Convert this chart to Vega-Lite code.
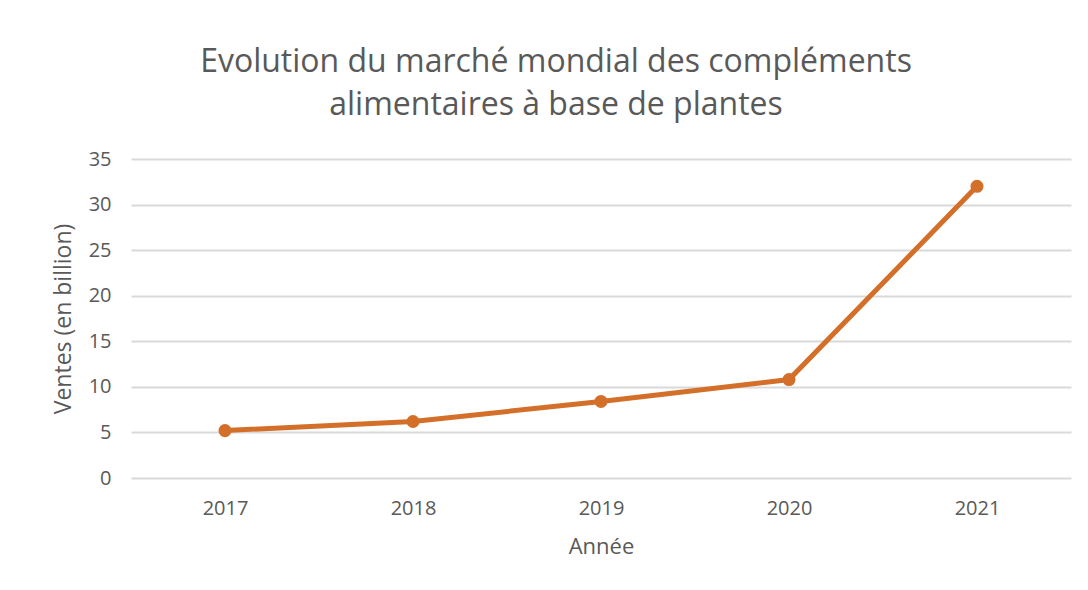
{
  "$schema": "https://vega.github.io/schema/vega-lite/v6.json",
  "width": 940,
  "height": 319,
  "autosize": "none",
  "padding": {"left": 131, "top": 159, "right": 17, "bottom": 112},
  "background": "white",
  "title": {
    "text": ["Evolution du marché mondial des compléments", "alimentaires à base de plantes"],
    "font": "Open Sans",
    "fontSize": 32,
    "fontWeight": "normal",
    "color": "#595959",
    "lineHeight": 43,
    "anchor": "middle",
    "dx": -45,
    "offset": 27
  },
  "data": {
    "values": [
      {"annee": "2017", "ventes": 5.2},
      {"annee": "2018", "ventes": 6.2},
      {"annee": "2019", "ventes": 8.4},
      {"annee": "2020", "ventes": 10.8},
      {"annee": "2021", "ventes": 32}
    ]
  },
  "config": {
    "view": {"stroke": null},
    "font": "Open Sans"
  },
  "encoding": {
    "x": {
      "field": "annee",
      "type": "ordinal",
      "title": "Année",
      "scale": {"type": "point", "padding": 0.5},
      "axis": {
        "labelAngle": 0,
        "labelFont": "Open Sans",
        "labelFontSize": 20,
        "labelColor": "#595959",
        "labelPadding": 20,
        "ticks": false,
        "domain": false,
        "grid": false,
        "titleFont": "Open Sans",
        "titleFontSize": 22,
        "titleFontWeight": "normal",
        "titleColor": "#595959",
        "titlePadding": 18
      }
    },
    "y": {
      "field": "ventes",
      "type": "quantitative",
      "title": "Ventes (en billion)",
      "scale": {"domain": [0, 35], "nice": false},
      "axis": {
        "values": [0, 5, 10, 15, 20, 25, 30, 35],
        "labelFont": "Open Sans",
        "labelFontSize": 20,
        "labelColor": "#595959",
        "labelPadding": 20,
        "ticks": false,
        "domain": false,
        "grid": true,
        "gridColor": "#D9D9D9",
        "gridWidth": 2,
        "titleFont": "Open Sans",
        "titleFontSize": 23,
        "titleFontWeight": "normal",
        "titleColor": "#595959",
        "titlePadding": 13
      }
    }
  },
  "layer": [
    {
      "mark": {"type": "line", "color": "#D46F2A", "strokeWidth": 5}
    },
    {
      "mark": {"type": "point", "filled": true, "color": "#D46F2A", "size": 170, "opacity": 1}
    }
  ]
}
